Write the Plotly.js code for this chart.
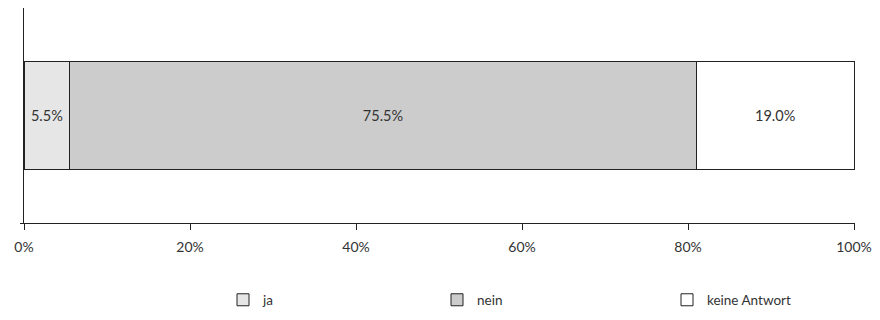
<!DOCTYPE html>
<html>
<head>
<meta charset="utf-8">
<script src="https://cdn.plot.ly/plotly-3.0.1.min.js"></script>
<style>html,body{margin:0;padding:0;background:#fff;}#chart{width:880px;height:320px;}</style>
</head>
<body>
<div id="chart"></div>
<script>
const category = ['Frage'];
const seriesNames = ['ja', 'nein', 'keine Antwort'];
const valuesJa = [5.5];
const valuesNein = [75.5];
const valuesKeine = [19.0];
const fillColors = ['#e6e6e6', '#cccccc', '#ffffff'];
const xTickVals = [0, 20, 40, 60, 80, 100];
const xTickText = ['0%', '20%', '40%', '60%', '80%', '100%'];

const seriesValues = [valuesJa, valuesNein, valuesKeine];
const legendIds = ['legend', 'legend2', 'legend3'];
const FONT = 'Lato, "Open Sans", sans-serif';

const traces = seriesNames.map((name, i) => ({
  type: 'bar',
  orientation: 'h',
  name: name,
  y: category,
  x: seriesValues[i],
  width: 0.5,
  marker: {color: fillColors[i], line: {color: '#222', width: 1}},
  text: seriesValues[i].map(v => v.toFixed(1) + '%'),
  textposition: 'inside',
  insidetextanchor: 'middle',
  textangle: 0,
  constraintext: 'none',
  textfont: {family: FONT, size: 14.5, color: '#333'},
  hoverinfo: 'skip',
  cliponaxis: false,
  legend: legendIds[i]
}));

const legendBase = {
  orientation: 'h', yref: 'container', yanchor: 'middle', y: 0.0625,
  xref: 'container', xanchor: 'left',
  font: {family: FONT, size: 13.5, color: '#333'}, itemwidth: 30,
  bgcolor: 'rgba(0,0,0,0)'
};

const layout = {
  width: 880, height: 320,
  margin: {l: 24, r: 25, t: 8, b: 97, autoexpand: false},
  paper_bgcolor: '#fff', plot_bgcolor: '#fff',
  barmode: 'stack',
  showlegend: true,
  legend: Object.assign({}, legendBase, {x: 223 / 880}),
  legend2: Object.assign({}, legendBase, {x: 437 / 880}),
  legend3: Object.assign({}, legendBase, {x: 667 / 880}),
  xaxis: {
    range: [0, 100.12], tickvals: xTickVals, ticktext: xTickText,
    ticks: 'outside', ticklen: 6, tickcolor: '#222', tickwidth: 1,
    ticklabelstandoff: 5,
    showline: true, linecolor: '#222', linewidth: 1,
    showgrid: false, zeroline: false,
    tickfont: {family: FONT, size: 14, color: '#333'}
  },
  yaxis: {
    range: [-0.5, 0.5], tickvals: [-0.5], ticktext: [''],
    ticks: 'outside', ticklen: 3, tickcolor: '#222',
    showline: true, linecolor: '#222', linewidth: 1,
    showgrid: false, zeroline: false, showticklabels: true
  }
};

Plotly.newPlot('chart', traces, layout, {displayModeBar: false, staticPlot: true});
</script>
</body>
</html>
